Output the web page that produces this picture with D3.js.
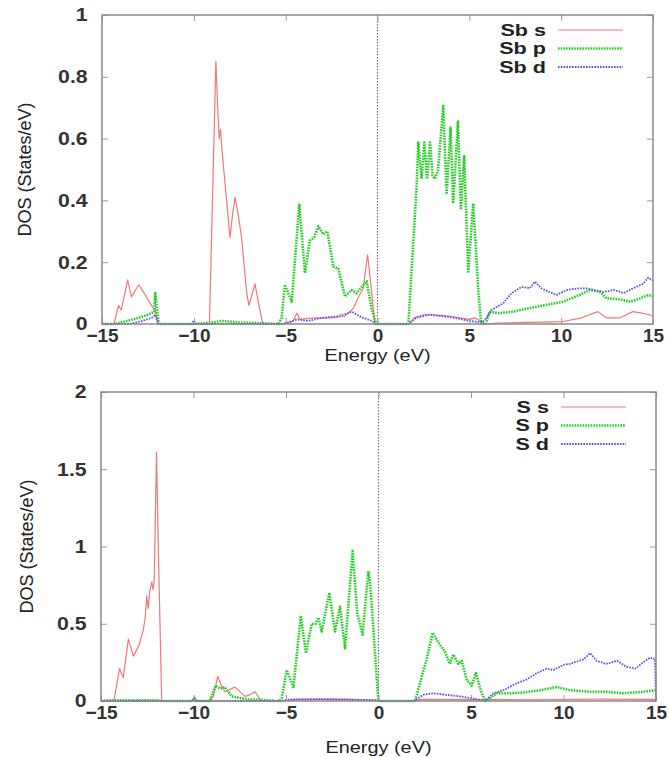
<!DOCTYPE html>
<html>
<head>
<meta charset="utf-8">
<script src="https://cdn.jsdelivr.net/npm/d3@7"></script>
<style>
  html, body { margin: 0; padding: 0; background: #fff; }
  svg { display: block; }
  .tick text { font-family: "Liberation Sans", Arial, sans-serif; font-weight: bold; fill: #333; }
</style>
</head>
<body>
<svg id="chart" width="670" height="758"></svg>
<script>
// ---- Sb projected DOS (upper panel) ----
const sbS_E = [-15, -14.35, -14.1, -13.95, -13.6, -13.4, -13.0, -12.6, -12.1, -11.95,
  -9.15, -8.8, -8.7, -8.62, -8.55, -8.45, -8.03, -7.9, -7.76, -7.6, -7.4, -7.12, -7.0, -6.85, -6.67, -6.45, -6.25,
  -5.2, -4.6, -4.4, -4.2, -3.5, -2.5, -1.8, -1.5, -1.32, -1.05, -0.78, -0.54, -0.4, -0.14,
  1.7, 2.0, 2.5, 3.0, 3.5, 4.0, 4.5, 5.0, 5.3, 5.6, 5.9, 6.5, 8, 9, 10.1, 11.0, 12.0, 12.45, 13.2, 13.9, 14.4, 14.8, 15];
const sbS_V = [0, 0, 0.06, 0.045, 0.143, 0.088, 0.127, 0.09, 0.04, 0,
  0, 0.85, 0.7, 0.6, 0.63, 0.55, 0.28, 0.35, 0.41, 0.36, 0.28, 0.1, 0.06, 0.09, 0.13, 0.06, 0,
  0, 0.01, 0.035, 0.015, 0.02, 0.02, 0.025, 0.04, 0.05, 0.085, 0.116, 0.224, 0.15, 0,
  0, 0.02, 0.03, 0.03, 0.028, 0.025, 0.02, 0.015, 0.02, 0.01, 0, 0.003, 0.005, 0.006, 0.008, 0.018, 0.04, 0.02, 0.02, 0.04, 0.035, 0.03, 0.025];

const sbP_E = [-15, -14.3, -14.0, -13.5, -13.0, -12.5, -12.15, -12.1, -12.0, -11.9,
  -10.0, -9.0, -8.5, -7.5, -6.5, -5.4, -5.22, -5.04, -4.67, -4.26, -3.95, -3.68, -3.45, -3.22, -2.95, -2.73,
  -2.41, -2.14, -1.77, -1.41, -1.14, -0.59, -0.32, -0.08,
  1.68, 2.13, 2.22, 2.4, 2.55, 2.7, 2.86, 3.0, 3.13, 3.3, 3.58, 3.76, 3.98, 4.12, 4.38, 4.54, 4.72, 4.94, 5.21, 5.5, 5.65,
  5.9, 6.1, 6.6, 7.4, 8.3, 9.2, 10.1, 11.0, 11.56, 12.1, 12.47, 13.2, 13.77, 14.3, 14.75, 15];
const sbP_V = [0, 0, 0.005, 0.012, 0.02, 0.03, 0.04, 0.1, 0.04, 0,
  0, 0.005, 0.01, 0.005, 0.003, 0, 0.02, 0.127, 0.072, 0.386, 0.165, 0.27, 0.28, 0.316, 0.29, 0.3,
  0.186, 0.18, 0.089, 0.11, 0.1, 0.138, 0.05, 0,
  0, 0.446, 0.587, 0.47, 0.587, 0.47, 0.587, 0.48, 0.47, 0.5, 0.705, 0.42, 0.636, 0.39, 0.655, 0.37, 0.543, 0.165, 0.39, 0.1, 0,
  0, 0.04, 0.035, 0.04, 0.052, 0.062, 0.072, 0.094, 0.11, 0.105, 0.083, 0.08, 0.072, 0.083, 0.094, 0.09];

const sbD_E = [-15, -13.5, -12.8, -12.3, -12.1, -11.95, -10.1, -10.0, -9.9,
  -5.2, -4.8, -4.4, -3.8, -3.0, -2.2, -1.6, -1.41, -0.8, -0.3, -0.1,
  1.7, 2.1, 2.8, 3.5, 4.2, 5.0, 5.7, 5.94, 6.2, 6.84, 7.3, 7.85, 8.3, 8.57, 8.94, 9.3, 9.75,
  10.3, 10.84, 11.4, 11.8, 12.3, 12.9, 13.4, 13.9, 14.45, 14.74, 15];
const sbD_V = [0, 0, 0.01, 0.02, 0.03, 0, 0, 0.012, 0,
  0, 0.005, 0.015, 0.01, 0.02, 0.025, 0.035, 0.04, 0.02, 0.01, 0,
  0, 0.02, 0.03, 0.025, 0.02, 0.01, 0.005, 0.02, 0.045, 0.067, 0.1, 0.12, 0.116, 0.137, 0.115, 0.105, 0.094,
  0.11, 0.115, 0.115, 0.11, 0.104, 0.11, 0.1, 0.115, 0.13, 0.15, 0.14];

// ---- S projected DOS (lower panel) ----
const sS_E = [-15, -14.3, -14.0, -13.8, -13.52, -13.25, -12.95, -12.71, -12.6, -12.53, -12.45, -12.35, -12.26, -12.18, -12.12,
  -12.0, -11.9, -11.72, -9.2, -8.93, -8.69, -8.5, -8.3, -7.76, -7.22, -6.95, -6.68, -6.4, -6.24,
  -5.2, -4.5, -2.0, -0.1, 0, 1.9, 2.2, 8, 12, 15];
const sS_V = [0, 0, 0.21, 0.15, 0.4, 0.29, 0.36, 0.46, 0.55, 0.68, 0.6, 0.72, 0.77, 0.72, 0.8,
  1.61, 0.98, 0, 0, 0.03, 0.16, 0.1, 0.06, 0.09, 0.03, 0.04, 0.06, 0.01, 0,
  0, 0.01, 0.01, 0.005, 0, 0, 0.01, 0.008, 0.012, 0.01];

const sP_E = [-15, -14.5, -12, -11.7, -10.05, -9.95, -9.85, -9.1, -9.02, -8.8, -8.57, -8.3, -7.94, -7.5, -7.0, -6.5, -6.0,
  -5.35, -5.23, -4.96, -4.6, -4.2, -3.92, -3.61, -3.4, -3.25, -3.07, -2.66, -2.35, -2.08, -1.81, -1.4, -1.15, -0.86, -0.55, -0.45, -0.01,
  1.97, 2.24, 2.6, 2.93, 3.23, 3.59, 3.86, 4.04, 4.32, 4.5, 4.77, 5.04, 5.27, 5.5, 5.76,
  5.94, 6.39, 7.1, 7.83, 8.73, 9.63, 10.35, 11.43, 12.3, 13.25, 14.35, 14.97, 15];
const sP_V = [0, 0.005, 0.005, 0, 0, 0.02, 0, 0, 0.03, 0.1, 0.08, 0.09, 0.03, 0.02, 0.01, 0.01, 0.005,
  0, 0.02, 0.2, 0.09, 0.55, 0.31, 0.5, 0.5, 0.54, 0.45, 0.7, 0.45, 0.61, 0.34, 0.97, 0.57, 0.43, 0.84, 0.76, 0,
  0, 0.115, 0.27, 0.44, 0.38, 0.32, 0.24, 0.3, 0.24, 0.26, 0.136, 0.1, 0.18, 0.08, 0,
  0.01, 0.05, 0.05, 0.055, 0.07, 0.09, 0.07, 0.06, 0.06, 0.05, 0.06, 0.07, 0.07];

const sD_E = [-15, -12, -10.05, -9.95, -9.85, -5.3, -4.8, -3.0, -1.5, -0.1, 0,
  1.9, 2.42, 2.96, 3.68, 4.4, 5.13, 5.77, 6.21, 6.75, 7.47, 8.01, 8.55, 9.09, 9.45, 9.99, 10.35, 10.71,
  11.1, 11.43, 11.8, 12.3, 12.9, 13.42, 13.9, 14.3, 14.68, 14.95, 15];
const sD_V = [0, 0, 0, 0.02, 0, 0, 0.01, 0.012, 0.01, 0.005, 0,
  0, 0.04, 0.05, 0.04, 0.03, 0.015, 0, 0.05, 0.07, 0.115, 0.14, 0.18, 0.21, 0.2, 0.234, 0.24, 0.255,
  0.27, 0.31, 0.26, 0.24, 0.26, 0.22, 0.21, 0.25, 0.28, 0.27, 0];

// ---- axes ----
const xTicks = [-15, -10, -5, 0, 5, 10, 15];
const yTicksTop = [0, 0.2, 0.4, 0.6, 0.8, 1];
const yTicksBottom = [0, 0.5, 1, 1.5, 2];
const topLegend = ["Sb s", "Sb p", "Sb d"];
const bottomLegend = ["S s", "S p", "S d"];

const styles = [
  { color: "#f07878", width: 1.2, dash: null },
  { color: "#22d022", width: 2.6, dash: "1.6,1.1" },
  { color: "#5a50ee", width: 1.8, dash: "1.6,1.2" }
];

const FONT = "Liberation Sans, Arial, sans-serif";
const svg = d3.select("#chart");
svg.append("rect").attr("width", 670).attr("height", 758).attr("fill", "#fff");

const zip = (E, V) => E.map((e, i) => [e, V[i]]);

function panel(box, yMax, yTicks, series, legend) {
  const x = d3.scaleLinear().domain([-15, 15]).range([box.left, box.right]);
  const y = d3.scaleLinear().domain([0, yMax]).range([box.bottom, box.top]);
  const g = svg.append("g");

  const fmt = d => d3.format("~g")(d);

  // curves
  const line = d3.line().x(d => x(d[0])).y(d => y(d[1]));
  series.forEach((s, i) => {
    const st = styles[i];
    g.append("path")
      .datum(s)
      .attr("d", line)
      .attr("fill", "none")
      .attr("stroke", st.color)
      .attr("stroke-width", st.width)
      .attr("stroke-dasharray", st.dash)
      .attr("stroke-linejoin", "round");
  });

  // Fermi level marker
  g.append("line")
    .attr("x1", x(0)).attr("x2", x(0))
    .attr("y1", box.top).attr("y2", box.bottom)
    .attr("stroke", "#777").attr("stroke-width", 1.2)
    .attr("stroke-dasharray", "1.5,1.5");

  // axes with inward ticks
  const ax = g.append("g").attr("transform", `translate(0,${box.bottom})`)
    .call(d3.axisBottom(x).tickValues(xTicks).tickFormat(fmt).tickSize(-6).tickPadding(box.xPad));
  const ay = g.append("g").attr("transform", `translate(${box.left},0)`)
    .call(d3.axisLeft(y).tickValues(yTicks).tickFormat(fmt).tickSize(-6).tickPadding(12.5));
  const axt = g.append("g").attr("transform", `translate(0,${box.top})`)
    .call(d3.axisTop(x).tickValues(xTicks).tickFormat("").tickSize(-6));
  const ayr = g.append("g").attr("transform", `translate(${box.right},0)`)
    .call(d3.axisRight(y).tickValues(yTicks).tickFormat("").tickSize(-6));
  [ax, ay, axt, ayr].forEach(a => {
    a.select(".domain").remove();
    a.selectAll(".tick line").attr("stroke", "#999").attr("stroke-width", 1);
  });
  ax.selectAll(".tick text").style("font-size", "19px");
  ay.selectAll(".tick text").style("font-size", "18.5px").attr("transform", "scale(1.15,1)");

  // frame
  g.append("rect")
    .attr("x", box.left).attr("y", box.top)
    .attr("width", box.right - box.left).attr("height", box.bottom - box.top)
    .attr("fill", "none").attr("stroke", "#8a8a8a").attr("stroke-width", 1.5);

  // axis titles
  g.append("text")
    .attr("transform", `translate(${(box.left + box.right) / 2},${box.titleY}) scale(1.17,1)`)
    .attr("text-anchor", "middle")
    .attr("font-family", FONT)
    .attr("font-size", 17).attr("fill", "#222")
    .text("Energy (eV)");
  g.append("text")
    .attr("transform", `translate(${box.yTitleX},${(box.top + box.bottom) / 2}) rotate(-90)`)
    .attr("text-anchor", "middle")
    .attr("dy", "0.35em")
    .attr("font-family", FONT)
    .attr("font-size", 18).attr("fill", "#222")
    .text("DOS (States/eV)");

  // legend
  legend.forEach((name, i) => {
    const ly = box.top + 15 + i * 18.5;
    g.append("text")
      .attr("transform", `translate(${box.legendX},${ly}) scale(1.35,1)`)
      .attr("dy", "0.36em")
      .attr("text-anchor", "end")
      .attr("font-family", FONT)
      .attr("font-weight", "bold")
      .attr("font-size", 16).attr("fill", "#222")
      .text(name);
    const st = styles[i];
    g.append("line")
      .attr("x1", box.legendX + 12).attr("x2", box.legendX + 77)
      .attr("y1", ly).attr("y2", ly)
      .attr("stroke", st.color).attr("stroke-width", st.width)
      .attr("stroke-dasharray", st.dash);
  });
}

panel({ left: 102, right: 653, top: 15, bottom: 324, legendX: 546, xPad: 5, titleY: 361, yTitleX: 25 },
  1, yTicksTop, [zip(sbS_E, sbS_V), zip(sbP_E, sbP_V), zip(sbD_E, sbD_V)], topLegend);
panel({ left: 101, right: 656, top: 392, bottom: 701, legendX: 549, xPad: 5, titleY: 753, yTitleX: 27 },
  2, yTicksBottom, [zip(sS_E, sS_V), zip(sP_E, sP_V), zip(sD_E, sD_V)], bottomLegend);
</script>
</body>
</html>
